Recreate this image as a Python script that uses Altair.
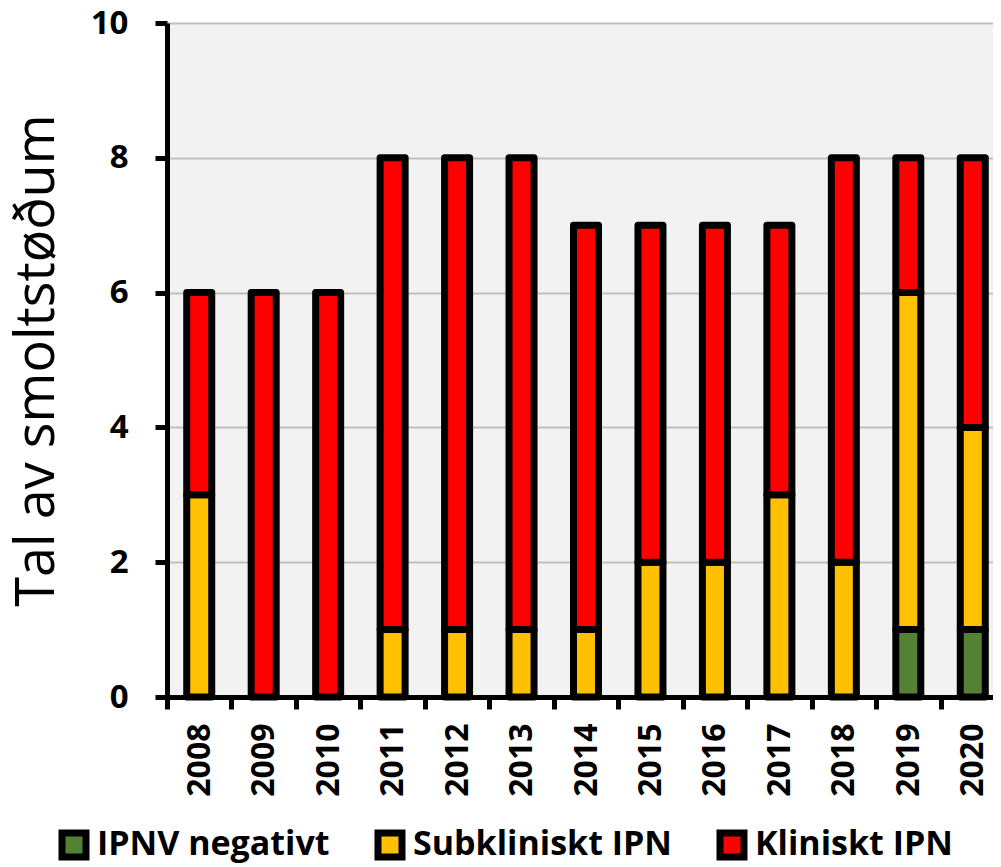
import altair as alt
import pandas as pd

years = ["2008", "2009", "2010", "2011", "2012", "2013", "2014",
         "2015", "2016", "2017", "2018", "2019", "2020"]
ipnv_negativt = [0, 0, 0, 0, 0, 0, 0, 0, 0, 0, 0, 1, 1]
subkliniskt = [3, 0, 0, 1, 1, 1, 1, 2, 2, 3, 2, 5, 3]
kliniskt = [3, 6, 6, 7, 7, 7, 6, 5, 5, 4, 6, 2, 4]
categories = ["IPNV negativt", "Subkliniskt IPN", "Kliniskt IPN"]
colors = ["#548235", "#FFC000", "#FF0000"]
outline = ["black", "black", "black"]
y_ticks = [0, 2, 4, 6, 8, 10]

rows = []
for series_i, (name, vals) in enumerate(zip(categories, [ipnv_negativt, subkliniskt, kliniskt])):
    for yr, v in zip(years, vals):
        if v > 0:
            rows.append({"year": yr, "category": name, "value": v, "order": series_i})
df = pd.DataFrame(rows)

FONT = "Open Sans"

legend = alt.Legend(title=None, orient="none", legendX=-110, legendY=805,
                    direction="horizontal", symbolType="square",
                    symbolSize=576, symbolStrokeWidth=7, symbolOpacity=1,
                    labelFont=FONT, labelFontSize=34,
                    labelFontWeight="bold", labelColor="black",
                    labelOffset=6, columnPadding=34, labelLimit=400)

chart = alt.Chart(df).mark_bar(
    size=25, strokeWidth=7, strokeJoin="round", fillOpacity=1, strokeOpacity=1
).encode(
    x=alt.X("year:N", sort=years,
            scale=alt.Scale(domain=years, range=[0, 838], paddingInner=0, paddingOuter=0),
            axis=alt.Axis(title=None, labelAngle=-90, labelFont=FONT, labelFontSize=32,
                          labelFontWeight="bold", labelColor="black", labelPadding=14,
                          tickBand="extent", tickSize=12, tickWidth=5, tickColor="black",
                          domainColor="black", domainWidth=5, grid=False, zindex=1)),
    y=alt.Y("value:Q", stack="zero",
            scale=alt.Scale(domain=[0, 10], nice=False),
            axis=alt.Axis(title="Tal av smoltstøðum", values=y_ticks, labelFont=FONT,
                          labelFontSize=33, labelFontWeight="bold", labelColor="black",
                          labelPadding=27, tickSize=12, tickWidth=5, tickColor="black",
                          domainColor="black", domainWidth=5, gridColor="#BFBFBF",
                          gridWidth=2, titleFont=FONT, titleFontSize=54,
                          titleFontWeight="normal", titleColor="black", titlePadding=26)),
    fill=alt.Fill("category:N", scale=alt.Scale(domain=categories, range=colors),
                  legend=legend),
    stroke=alt.Stroke("category:N", scale=alt.Scale(domain=categories, range=outline),
                      legend=legend),
    order=alt.Order("order:Q", sort="ascending"),
).properties(
    width=826, height=674,
    autosize=alt.AutoSizeParams(type="none"),
    padding={"left": 159, "top": 15, "right": 0, "bottom": 168},
).configure_view(fill="#F2F2F2", strokeWidth=0)

chart.save("out.html", embed_options={"renderer": "svg", "actions": False})
